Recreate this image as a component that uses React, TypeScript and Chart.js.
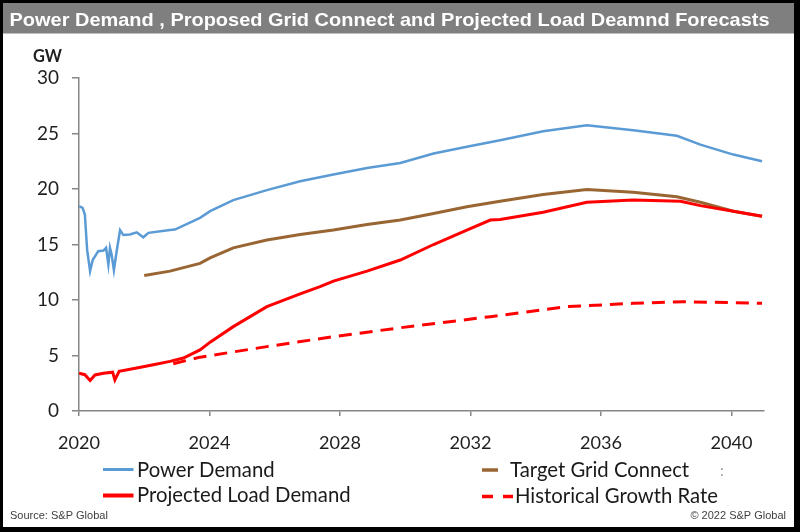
import { useEffect, useRef } from "react";
import { Chart, registerables } from "chart.js";

Chart.register(...registerables);

const chartTitle = "Power Demand , Proposed Grid Connect and Projected Load Deamnd Forecasts";
const unitLabel = "GW";
const sourceText = "Source: S&P Global";
const copyrightText = "© 2022 S&P Global";

const xTickValues = [2020, 2024, 2028, 2032, 2036, 2040];
const yTickValues = [0, 5, 10, 15, 20, 25, 30];

const seriesLabels = ["Power Demand", "Target Grid Connect", "Projected Load Demand", "Historical Growth Rate"];

const powerYears = [2020.0, 2020.11, 2020.18, 2020.25, 2020.34, 2020.42, 2020.59, 2020.75, 2020.83, 2020.9, 2020.95, 2021.0, 2021.07, 2021.16, 2021.26, 2021.36, 2021.56, 2021.77, 2021.97, 2022.13, 2022.79, 2022.94, 2023.71, 2024.02, 2024.73, 2025.76, 2026.78, 2027.8, 2028.83, 2029.85, 2030.87, 2031.89, 2032.91, 2034.23, 2035.57, 2036.99, 2038.33, 2039.05, 2040.06, 2040.94];
const powerValues = [18.45, 18.3, 17.7, 14.5, 12.6, 13.6, 14.4, 14.45, 14.7, 13.2, 14.7, 14.1, 12.7, 14.5, 16.3, 15.85, 15.9, 16.1, 15.65, 16.05, 16.3, 16.35, 17.4, 18.0, 19.0, 19.9, 20.7, 21.3, 21.9, 22.35, 23.2, 23.8, 24.4, 25.2, 25.75, 25.3, 24.8, 24.0, 23.1, 22.5];

const gridYears = [2022.0, 2022.79, 2023.71, 2024.02, 2024.73, 2025.76, 2026.78, 2027.8, 2028.83, 2029.85, 2030.87, 2031.89, 2032.91, 2034.23, 2035.57, 2036.99, 2038.33, 2039.05, 2040.06, 2040.94];
const gridValues = [12.2, 12.6, 13.3, 13.8, 14.7, 15.4, 15.9, 16.3, 16.8, 17.2, 17.8, 18.4, 18.9, 19.5, 19.95, 19.7, 19.3, 18.8, 18.0, 17.55];

const loadYears = [2020.0, 2020.18, 2020.34, 2020.49, 2020.75, 2021.03, 2021.1, 2021.23, 2021.77, 2022.28, 2022.79, 2023.2, 2023.71, 2024.02, 2024.73, 2025.76, 2026.78, 2027.39, 2027.8, 2028.83, 2029.85, 2030.87, 2031.89, 2032.61, 2032.91, 2034.23, 2035.57, 2036.99, 2038.44, 2039.05, 2040.06, 2040.94];
const loadValues = [3.4, 3.27, 2.75, 3.25, 3.4, 3.5, 2.8, 3.57, 3.87, 4.17, 4.47, 4.77, 5.5, 6.2, 7.6, 9.4, 10.55, 11.2, 11.7, 12.6, 13.6, 15.0, 16.3, 17.2, 17.25, 17.9, 18.8, 19.0, 18.9, 18.5, 18.0, 17.55];

const histYears = [2022.89, 2023.71, 2025.76, 2027.8, 2029.85, 2032.61, 2034.96, 2036.99, 2038.53, 2040.94];
const histValues = [4.26, 4.85, 5.8, 6.7, 7.5, 8.5, 9.4, 9.7, 9.85, 9.7];

const BLUE = "#5B9BD5";
const BROWN = "#996633";
const RED = "#FF0000";
const AXIS = "#868686";
const TEXT = "#1F1F1F";
const FONT = "Lato";

function toPoints(xs: number[], ys: number[]) {
  return xs.map((x, i) => ({ x, y: ys[i] }));
}

export default function App() {
  const ref = useRef<HTMLCanvasElement | null>(null);

  useEffect(() => {
    document.body.style.margin = "0";
    const canvas = ref.current;
    if (!canvas) return;

    const m = document.createElement("canvas").getContext("2d")!;
    const fit = (text: string, weight: string, family: string, target: number, base: number) => {
      m.font = `${weight} ${base}px ${family}`;
      const w = m.measureText(text).width;
      return w > 0 ? (base * target) / w : base;
    };
    const legendSize = fit("Historical Growth Rate", "normal", FONT, 203, 22);
    const xTickSize = fit("2020", "normal", FONT, 42, 21);
    const yTickSize = fit("30", "normal", FONT, 22, 20);
    const gwSize = fit(unitLabel, "bold", FONT, 29, 18);
    const footSize = fit(sourceText, "normal", "Liberation Sans", 98, 10);

    const framePlugin = {
      id: "frame",
      beforeDraw(chart: any) {
        const ctx = chart.ctx as CanvasRenderingContext2D;
        const W = chart.width;
        const H = chart.height;
        ctx.save();
        ctx.fillStyle = "#000000";
        ctx.fillRect(0, 0, W, H);
        ctx.fillStyle = "#FFFFFF";
        ctx.fillRect(3, 3, 791, 524);
        ctx.fillStyle = "#7F7F7F";
        ctx.fillRect(3, 3, 791, 30.5);
        // title
        ctx.font = `bold 19px "Liberation Sans Narrow", "Liberation Sans"`;
        const tw = ctx.measureText(chartTitle).width;
        const sx = 760 / tw;
        ctx.translate(9.5, 25.5);
        ctx.scale(sx, 1);
        ctx.fillStyle = "#FFFFFF";
        ctx.textBaseline = "alphabetic";
        ctx.textAlign = "left";
        ctx.fillText(chartTitle, 0, 0);
        ctx.restore();
      },
      afterDraw(chart: any) {
        const ctx = chart.ctx as CanvasRenderingContext2D;
        const ds = chart.data.datasets;
        ctx.save();
        // unit label
        ctx.fillStyle = TEXT;
        ctx.font = `bold ${gwSize}px ${FONT}`;
        ctx.textAlign = "left";
        ctx.textBaseline = "alphabetic";
        ctx.fillText(unitLabel, 33, 61.7);

        const line = (x1: number, x2: number, y: number, color: string, w: number) => {
          ctx.beginPath();
          ctx.strokeStyle = color;
          ctx.lineWidth = w;
          ctx.lineCap = "butt";
          ctx.moveTo(x1, y);
          ctx.lineTo(x2, y);
          ctx.stroke();
        };
        // legend samples
        line(103, 133.5, 469.5, ds[1].borderColor, 3);
        line(103, 133.5, 495.5, ds[0].borderColor, 4);
        line(482, 498, 470, ds[2].borderColor, 3.5);
        line(482, 493, 496.5, ds[3].borderColor, 3.5);
        line(503, 513, 496.5, ds[3].borderColor, 3.5);

        ctx.fillStyle = "#1A1A1A";
        ctx.font = `${legendSize}px ${FONT}`;
        ctx.fillText(ds[1].label, 137, 476.7);
        ctx.fillText(ds[0].label, 137, 501.7);
        ctx.fillText(ds[2].label, 510, 476.7);
        ctx.fillText(ds[3].label, 515, 503);

        ctx.fillStyle = "#9A9A9A";
        ctx.font = `15px ${FONT}`;
        ctx.fillText(":", 720, 476);

        // footers
        ctx.fillStyle = "#404040";
        ctx.font = `${footSize}px "Liberation Sans"`;
        ctx.fillText(sourceText, 10, 518.5);
        ctx.textAlign = "right";
        ctx.fillText(copyrightText, 786, 518.5);
        ctx.restore();
      },
    };

    const chart = new Chart(canvas, {
      type: "line",
      data: {
        datasets: [
          {
            label: seriesLabels[2],
            data: toPoints(loadYears, loadValues),
            borderColor: RED,
            borderWidth: 3,
            pointRadius: 0,
            tension: 0,
            order: 0,
          },
          {
            label: seriesLabels[0],
            data: toPoints(powerYears, powerValues),
            borderColor: BLUE,
            borderWidth: 2.5,
            pointRadius: 0,
            tension: 0,
            order: 1,
          },
          {
            label: seriesLabels[1],
            data: toPoints(gridYears, gridValues),
            borderColor: BROWN,
            borderWidth: 3,
            pointRadius: 0,
            tension: 0,
            order: 2,
          },
          {
            label: seriesLabels[3],
            data: toPoints(histYears, histValues),
            borderColor: RED,
            borderWidth: 3,
            borderDash: [13, 8],
            pointRadius: 0,
            tension: 0,
            order: 3,
          },
        ],
      } as any,
      options: {
        responsive: false,
        animation: false,
        devicePixelRatio: 1,
        layout: { padding: { left: 0, top: 78, right: 36, bottom: 81 } },
        plugins: {
          legend: { display: false },
          title: { display: false },
          tooltip: { enabled: false },
        },
        scales: {
          x: {
            type: "linear",
            min: 2020,
            max: 2041,
            afterBuildTicks: (s: any) => {
              s.ticks = xTickValues.map((v) => ({ value: v }));
            },
            afterFit: (s: any) => {
              s.height = 40;
            },
            border: { display: true, color: AXIS, width: 1.5 },
            grid: { display: true, drawOnChartArea: false, drawTicks: true, tickLength: 5, color: AXIS, lineWidth: 1.5 },
            ticks: {
              color: TEXT,
              font: { family: FONT, size: xTickSize },
              padding: 16,
              maxRotation: 0,
              autoSkip: false,
              callback: (v: any) => String(v),
            },
          },
          y: {
            type: "linear",
            min: 0,
            max: 30,
            afterBuildTicks: (s: any) => {
              s.ticks = yTickValues.map((v) => ({ value: v }));
            },
            afterFit: (s: any) => {
              s.width = 79;
            },
            border: { display: true, color: AXIS, width: 1.5 },
            grid: { display: true, drawOnChartArea: false, drawTicks: true, tickLength: 7, color: AXIS, lineWidth: 1.5 },
            ticks: {
              color: TEXT,
              font: { family: FONT, size: yTickSize },
              padding: 13,
              autoSkip: false,
              callback: (v: any) => String(v),
            },
          },
        },
      } as any,
      plugins: [framePlugin],
    });

    return () => {
      chart.destroy();
    };
  }, []);

  return (
    <div style={{ width: 800, height: 532, position: "relative" }}>
      <canvas ref={ref} width={800} height={532} style={{ display: "block", width: 800, height: 532 }} />
    </div>
  );
}
